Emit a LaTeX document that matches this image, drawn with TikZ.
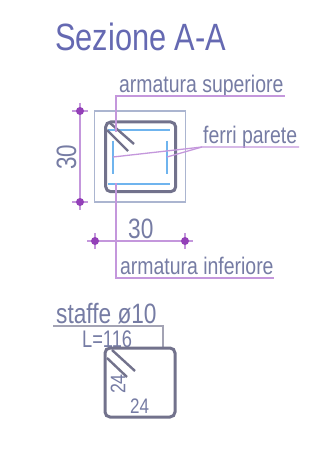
\documentclass[tikz,border=0pt]{standalone}
\usepackage{fontspec}
\setmainfont{Liberation Sans}
\tikzset{
  lbl/.style={inner sep=0pt,anchor=base west,text=labelc,xscale=.81},
  sz24/.style={font=\fontsize{24}{26}\selectfont},
  sz28/.style={font=\fontsize{28}{30}\selectfont},
  sz22/.style={font=\fontsize{21}{24}\selectfont},
  leader/.style={draw=leaderc,line width=1.3pt},
  outline/.style={draw=outlinec,line width=1.2pt},
  bar/.style={draw=stirrupc,line width=3pt,rounded corners=5pt},
  hook/.style={draw=stirrupc,line width=2.4pt},
  rebar/.style={draw=rebarc,line width=1.5pt},
  tick/.style={draw=leaderc,line width=1.3pt},
  dot/.style={circle,fill=dotc,inner sep=0pt,minimum size=8pt},
}
\definecolor{labelc}{HTML}{767CA4}
\definecolor{titlec}{HTML}{6569B2}
\definecolor{leaderc}{HTML}{C497DC}
\definecolor{outlinec}{HTML}{ABB5D0}
\definecolor{stirrupc}{HTML}{72728C}
\definecolor{rebarc}{HTML}{6FB4EE}
\definecolor{dotc}{HTML}{9340B8}
\newcommand{\dimdot}[2]{%
  \draw[tick] (#2)+(-8,0) -- +(8,0) (#2)+(0,-8) -- +(0,8);
  \node[dot] (#1) at (#2) {};}
\begin{document}
\begin{tikzpicture}[x=1pt,y=-1pt]
\useasboundingbox[fill=white] (0,0) rectangle (321,449);
\node[lbl,text=titlec,font=\fontsize{38}{40}\selectfont] (title) at (55,51) {Sezione A-A};
% concrete outline
\draw[outline] (94.5,111) rectangle (185.7,202);
% rebars
\coordinate (tl) at (108,130); \coordinate (tr) at (170,130);
\coordinate (bl) at (108,184); \coordinate (br) at (170,184);
\draw[rebar] (tl) -- (tr);
\draw[rebar] (bl) -- (br);
\coordinate (wl1) at (113,141); \coordinate (wl2) at (113,174);
\coordinate (wr1) at (167,141); \coordinate (wr2) at (167,174);
\draw[rebar] (wl1) -- (wl2);
\draw[rebar] (wr1) -- (wr2);
% stirrup
\draw[bar] (105.7,122) rectangle (175.7,191.7);
\draw[hook] (110,123) -- (134,144);
\draw[hook] (107,130) -- (128,151);
% upper label
\node[lbl,sz24] (sup) at (119,93) {armatura superiore};
\coordinate (supA) at (116,132); \coordinate (supB) at (116,96); \coordinate (supC) at (285,96);
\draw[leader] (supA) -- (supB) -- (supC);
% wall bars label
\node[lbl,sz24] (par) at (203,143) {ferri parete};
\coordinate (parA) at (299,147); \coordinate (parB) at (202,147);
\coordinate (parL) at (113,157); \coordinate (parR) at (167,157);
\draw[leader] (parA) -- (parB) -- (parL);
\draw[leader] (parB) -- (parR);
% lower label
\node[lbl,sz24] (inf) at (120,274) {armatura inferiore};
\coordinate (infA) at (116,183); \coordinate (infB) at (116,278); \coordinate (infC) at (274,278);
\draw[leader] (infA) -- (infB) -- (infC);
% vertical dimension
\coordinate (va) at (80,111); \coordinate (vb) at (80,202);
\draw[leader] (va) -- (vb);
\dimdot{vda}{va} \dimdot{vdb}{vb}
\node[inner sep=0pt,text=labelc,sz28,rotate=90,xscale=.8] (vt) at (66.5,157) {30};
% horizontal dimension
\coordinate (ha) at (95,241); \coordinate (hb) at (185,241);
\draw[leader] (ha) -- (hb);
\dimdot{hda}{ha} \dimdot{hdb}{hb}
\node[lbl,sz28] (ht) at (128,238) {30};
% stirrup schedule
\node[lbl,font=\fontsize{28}{30}\selectfont] (st) at (56,323) {staffe ø10};
\coordinate (sa) at (53,326); \coordinate (sb) at (163,326); \coordinate (sc) at (163,348);
\draw[outline,draw=stirrupc!65] (sa) -- (sb) -- (sc);
\node[lbl,font=\fontsize{24}{26}\selectfont,xscale=.94] (len) at (82,347) {L=116};
\draw[bar] (105,348) rectangle (175,417);
\draw[hook] (112,350) -- (135,371);
\draw[hook] (107,358) -- (127,377);
\node[inner sep=0pt,text=labelc,sz22,rotate=90,xscale=.85] (s1) at (118,384) {24};
\node[lbl,sz22] (s2) at (130,413) {24};
\end{tikzpicture}
\end{document}
